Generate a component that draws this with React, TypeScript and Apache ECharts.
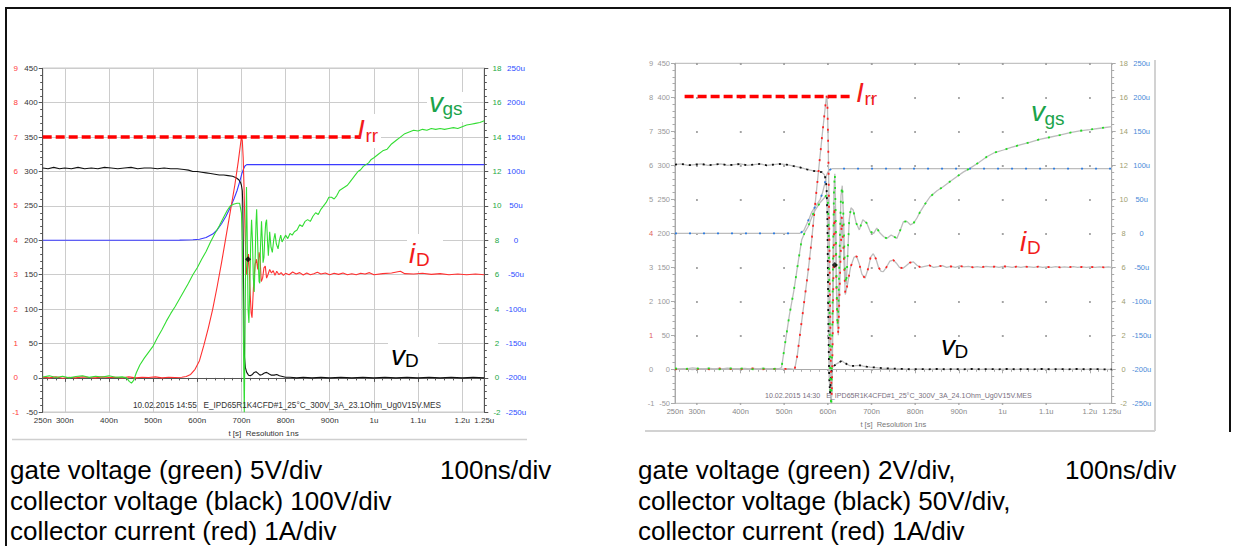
import React, { useEffect, useRef } from "react";
import * as echarts from "echarts";

type P = [number, number];

// ================= Left panel (time in ns) =================
// collector voltage, V (left scale -50..450)
const leftBlackV: P[] = [
  [250, 305], [262, 304], [275, 306], [288, 304], [300, 305], [315, 304], [330, 306], [345, 304], [360, 305], [375, 304],
  [390, 306], [405, 305], [420, 304], [435, 305], [450, 306], [465, 304], [480, 305], [495, 305], [510, 304], [525, 305],
  [540, 304], [555, 304], [570, 303], [580, 302], [590, 300], [600, 300], [610, 299], [620, 298], [630, 297], [640, 296],
  [650, 295], [660, 295], [670, 294], [680, 293], [688, 291], [694, 288], [698, 284], [700, 280], [702, 272], [703, 255],
  [704, 200], [705, 120], [706, 60], [707, 30], [709, 15], [712, 8], [716, 4], [720, 3], [725, 5], [729, 8], [733, 9],
  [737, 7], [742, 4], [747, 5], [752, 7], [757, 8], [762, 6], [768, 4], [774, 4], [780, 5], [786, 3], [793, 2], [800, 1],
  [810, 1], [825, 0], [840, 1], [860, 0], [880, 1], [900, 0], [925, 1], [950, 0], [975, 1], [1000, 0], [1025, 1],
  [1050, 0], [1075, 1], [1100, 0], [1125, 1], [1150, 0], [1175, 1], [1200, 0], [1225, 1], [1250, 0],
];
// blue trace, u (right blue scale -250u..250u)
const leftBlueU: P[] = [
  [250, 0], [400, 0], [500, 0], [560, 0.3], [590, 0.8], [605, 1.5], [620, 4], [635, 9], [645, 15], [655, 24], [665, 35],
  [675, 48], [683, 60], [690, 72], [696, 85], [701, 97], [705, 104], [708, 108], [712, 110], [1250, 110],
];
// collector current, A (red scale -1..9)
const leftRedA: P[] = [
  [250, 0.02], [265, 0.0], [280, 0.03], [295, -0.01], [310, 0.02], [325, 0.0], [340, 0.03], [355, 0.01], [370, 0.0],
  [385, 0.03], [400, 0.01], [415, 0.02], [430, 0.0], [445, 0.03], [460, 0.0], [475, 0.02], [490, 0.01], [505, 0.03],
  [520, 0.0], [535, 0.02], [550, 0.01], [565, 0.02], [575, 0.04], [585, 0.1], [595, 0.25], [605, 0.5], [615, 0.95],
  [625, 1.45], [635, 2.0], [645, 2.65], [655, 3.35], [665, 4.1], [675, 4.85], [685, 5.6], [693, 6.3], [698, 6.8],
  [700, 7.0], [702, 6.9], [704, 6.4], [706, 5.5], [708, 4.4], [710, 3.5], [712, 3.0], [714, 3.2], [716, 3.6], [718, 3.1],
  [720, 2.4], [722, 1.9], [724, 1.75], [726, 2.3], [728, 2.8], [731, 3.3], [734, 3.45], [737, 3.15], [740, 3.65],
  [742, 3.5], [745, 2.8], [748, 2.9], [751, 3.2], [754, 3.25], [757, 2.9], [760, 3.0], [764, 3.15], [768, 3.05],
  [772, 3.12], [776, 2.98], [780, 3.1], [785, 3.0], [790, 3.06], [795, 2.98], [800, 3.04], [808, 3.0], [816, 3.08],
  [824, 3.02], [832, 3.06], [840, 2.99], [848, 3.05], [856, 3.0], [864, 3.03], [872, 3.07], [880, 3.02], [890, 3.05],
  [900, 3.0], [910, 3.04], [920, 3.01], [930, 3.05], [940, 3.0], [950, 3.03], [960, 3.0], [970, 3.04], [980, 3.02],
  [990, 3.06], [1000, 3.0], [1020, 3.03], [1040, 3.05], [1060, 3.1], [1070, 3.03], [1090, 3.02], [1110, 3.04],
  [1130, 3.01], [1150, 3.03], [1170, 3.0], [1190, 3.02], [1210, 3.0], [1230, 3.02], [1250, 3.0],
];
// gate voltage, V (green scale -2..18)
const leftGreenV: P[] = [
  [250, 0.05], [265, 0.12], [280, 0.02], [295, 0.1], [310, 0.0], [325, 0.08], [340, 0.12], [355, 0.03], [370, 0.1],
  [385, 0.05], [400, 0.12], [415, 0.04], [430, 0.06], [440, 0.0], [446, -0.2], [451, -0.3], [456, -0.15], [462, 0.3],
  [470, 0.75], [480, 1.15], [490, 1.5], [500, 1.85], [510, 2.35], [520, 2.8], [530, 3.3], [540, 3.75], [550, 4.15],
  [560, 4.6], [570, 5.05], [580, 5.5], [590, 6.0], [600, 6.4], [610, 6.9], [620, 7.35], [630, 7.9], [640, 8.4],
  [650, 8.85], [660, 9.35], [668, 9.75], [675, 10.0], [682, 10.1], [690, 10.15], [696, 10.15], [700, 9.6], [702, 8.0],
  [703.5, 5.0], [705, 1.0], [706.5, -2.0], [708, 2.0], [710, 8.0], [711.5, 11.1], [713, 8.5], [715, 4.0], [717, 3.2],
  [719, 5.3], [721, 7.8], [723, 9.2], [725, 8.0], [727, 5.8], [729, 5.0], [731, 6.8], [733, 9.0], [734.5, 9.8],
  [736, 8.6], [738, 6.8], [740, 5.6], [741.5, 5.5], [743, 7.5], [745.5, 9.1], [747, 8.2], [749, 6.7], [751, 7.0],
  [753, 8.2], [755, 9.0], [757, 9.2], [759, 8.0], [761, 7.1], [764, 8.5], [767, 7.6], [770, 7.3], [773, 8.0], [776, 8.4],
  [779, 7.8], [783, 7.5], [786, 8.0], [789, 8.3], [792, 7.9], [796, 8.1], [800, 8.3], [805, 8.1], [810, 8.4], [815, 8.3],
  [820, 8.5], [826, 8.6], [832, 8.9], [838, 8.8], [844, 9.1], [850, 9.2], [856, 9.1], [862, 9.4], [868, 9.6], [874, 9.5],
  [880, 9.8], [886, 10.0], [892, 10.2], [898, 10.5], [904, 10.5], [910, 10.4], [916, 10.6], [922, 10.9], [928, 11.0],
  [934, 11.1], [940, 11.2], [946, 11.4], [952, 11.6], [958, 11.8], [964, 12.0], [970, 12.1], [976, 12.3], [982, 12.4],
  [988, 12.5], [994, 12.7], [1000, 12.8], [1010, 13.0], [1020, 13.2], [1030, 13.3], [1040, 13.6], [1050, 13.8],
  [1060, 14.0], [1070, 14.2], [1080, 14.3], [1090, 14.4], [1100, 14.35], [1110, 14.45], [1120, 14.4], [1130, 14.5],
  [1140, 14.45], [1150, 14.5], [1160, 14.45], [1170, 14.5], [1180, 14.55], [1190, 14.5], [1200, 14.6], [1210, 14.7],
  [1220, 14.75], [1230, 14.8], [1240, 14.85], [1250, 14.95],
];
const leftIrrA: P[] = [[250, 7.0], [968, 7.0]];
const leftCursorA: P[] = [[715, 3.45]];
const leftFooter = "10.02.2015 14:55\u00a0\u00a0\u00a0E_IPD65R1K4CFD#1_25°C_300V_3A_23.1Ohm_Ug0V15V.MES";

// ================= Right panel =================
const rightBlackV: P[] = [
  [250, 301], [265, 302], [280, 300], [295, 301], [310, 302], [325, 300], [340, 301], [355, 302], [370, 300], [385, 301],
  [400, 302], [415, 300], [430, 301], [445, 302], [460, 300], [475, 301], [490, 302], [505, 301], [520, 299], [536, 297],
  [552, 294], [565, 292], [576, 291], [586, 290], [592, 286], [595, 280], [597, 268], [599, 220], [600, 150], [601, 80],
  [602, 30], [603, -10], [605, -35], [607, -15], [609, 0], [612, 4], [620, 8], [628, 11], [632, 12.5], [637, 10],
  [643, 7.8], [650, 5.5], [658, 4.9], [666, 5.5], [674, 5.9], [681, 4.5], [689, 3.8], [697, 3.2], [704, 2.9], [715, 2.2],
  [725, 1.8], [735, 1.5], [750, 1], [770, 0.5], [790, 0], [810, 0.5], [830, 0], [850, 0.5], [870, 0], [890, 0.5],
  [910, 0], [930, 0.5], [950, 0], [970, 0.5], [990, 0], [1010, 0.5], [1030, 0], [1050, 0.5], [1070, 0], [1090, 0.5],
  [1110, 0], [1130, 0.5], [1150, 0], [1170, 0.5], [1190, 0], [1210, 0.5], [1230, 0], [1250, 0],
];
const rightBlueU: P[] = [
  [250, 0], [536, 0], [545, 4], [552, 14], [558, 23], [563, 31], [572, 40], [582, 49], [588, 60], [593, 73], [597, 85],
  [600, 90], [604, 93], [609, 95], [1250, 95],
];
const rightRedA: P[] = [
  [250, 0], [270, 0.02], [290, -0.01], [310, 0.02], [330, 0], [350, 0.03], [370, 0], [390, 0.02], [410, 0], [430, 0.03],
  [450, 0], [470, 0.02], [490, 0], [510, 0.02], [524, 0], [530, 0.4], [538, 1.2], [546, 2.0], [555, 2.9], [563, 3.8],
  [572, 5.0], [580, 6.0], [588, 7.0], [594, 7.7], [597, 8.05], [599, 7.8], [601, 6.5], [603, 4.5], [605, 2.0], [607, 0.0],
  [609, -0.8], [611, 0.8], [613, 3.0], [615, 4.8], [617, 4.2], [620, 2.2], [624, 1.0], [628, 2.8], [632, 4.5], [636, 3.5],
  [640, 2.2], [645, 2.5], [652, 3.0], [660, 3.3], [666, 3.32], [672, 3.1], [678, 2.8], [685, 2.68], [692, 2.95],
  [698, 3.3], [704, 3.4], [710, 3.25], [716, 3.0], [722, 2.88], [727, 2.87], [734, 3.0], [742, 3.18], [750, 3.21],
  [757, 3.12], [764, 3.0], [772, 2.97], [780, 3.05], [788, 3.14], [796, 3.16], [804, 3.06], [812, 3.0], [822, 3.03],
  [832, 3.06], [842, 3.0], [852, 3.02], [862, 3.05], [872, 3.0], [882, 3.03], [892, 3.0], [902, 3.04], [912, 3.01],
  [922, 3.03], [932, 3.0], [942, 3.02], [952, 3.0], [962, 3.03], [972, 3.01], [982, 3.02], [992, 3.0], [1002, 3.03],
  [1012, 3.02], [1022, 3.0], [1032, 3.02], [1042, 3.0], [1052, 3.02], [1062, 3.01], [1072, 3.0], [1082, 3.02],
  [1092, 3.0], [1102, 3.01], [1112, 3.0], [1122, 3.02], [1132, 3.0], [1142, 3.01], [1152, 3.0], [1162, 3.02],
  [1172, 3.0], [1182, 3.01], [1192, 3.0], [1202, 3.01], [1212, 3.0], [1222, 3.01], [1232, 3.0], [1242, 3.01], [1250, 3.0],
];
const rightGreenV: P[] = [
  [250, 0.05], [270, 0.0], [290, 0.08], [310, 0.02], [330, 0.06], [350, 0.0], [370, 0.07], [390, 0.03], [410, 0.06],
  [430, 0.0], [450, 0.05], [470, 0.02], [490, 0.05], [494, 0.1], [502, 1.5], [512, 3.2], [522, 4.6], [532, 6.3],
  [540, 7.6], [548, 8.1], [555, 8.4], [567, 9.2], [582, 9.8], [594, 10.15], [598, 10.3], [600, 10.0], [602, 8.0],
  [604, 3.0], [606, -1.5], [608, -2.2], [610, 2.0], [612, 7.0], [614, 10.5], [616, 11.5], [618, 9.0], [620, 5.0],
  [622, 2.5], [624, 3.5], [627, 7.0], [630, 10.2], [633, 10.8], [636, 8.8], [639, 6.0], [642, 5.0], [645, 6.5],
  [649, 8.8], [653, 9.5], [658, 9.37], [665, 8.6], [672, 8.2], [680, 8.8], [689, 8.6], [697, 8.1], [705, 8.0],
  [712, 8.3], [720, 8.0], [728, 7.8], [735, 7.7], [745, 7.9], [758, 7.7], [766, 8.2], [773, 8.68], [781, 8.7],
  [789, 8.5], [796, 8.59], [804, 8.9], [811, 9.25], [822, 9.7], [834, 10.15], [850, 10.5], [864, 10.74], [880, 11.05],
  [895, 11.33], [910, 11.6], [925, 11.82], [945, 12.15], [964, 12.5], [982, 12.75], [1002, 12.9], [1020, 13.05],
  [1040, 13.2], [1062, 13.35], [1085, 13.53], [1108, 13.65], [1131, 13.78], [1155, 13.92], [1177, 14.03], [1200, 14.1],
  [1223, 14.18], [1250, 14.27],
];
const rightIrrA: P[] = [[272, 8.02], [654, 8.02]];
const rightCursorA: P[] = [[616, 3.07]];
const rightFooter = "10.02.2015 14:30\u00a0\u00a0\u00a0E_IPD65R1K4CFD#1_25°C_300V_3A_24.1Ohm_Ug0V15V.MES";

// ================= Axes / ticks =================
const xMajorTicks = [250, 300, 400, 500, 600, 700, 800, 900, 1000, 1100, 1200, 1250];
const xMinorTicks: number[] = [];
for (let t = 260; t < 1250; t += 20) if (t % 100 !== 0) xMinorTicks.push(t);
const xAxisTitle = "t [s]\u00a0\u00a0Resolution 1ns";

const leftCaption = ["gate voltage (green) 5V/div", "collector voltage (black) 100V/div", "collector current (red) 1A/div"];
const rightCaption = ["gate voltage (green) 2V/div,", "collector voltage (black) 50V/div,", "collector current (red) 1A/div"];
const timebase = "100ns/div";

const FONT = '"Liberation Sans", Arial, sans-serif';
const fmtT = (v: number) => (v < 1000 ? `${v}n` : `${Number((v / 1000).toFixed(2))}u`);

type Panel = {
  grid: { left: number; top: number; width: number; height: number };
  dotted: boolean;
  axisColor: string;
  gridColor: string;
  frameColor: string;
  labelSize: number;
  leftRW: number;
  leftKW: number;
  leftMargin: number;
  rightGW: number;
  rightBW: number;
  rightMargin: number;
  colors: { r: string; r2: string; k: string; g: string; b: string; x: string; name: string };
  nameGap: number;
  black: P[];
  blue: P[];
  red: P[];
  green: P[];
  irr: P[];
  cursor: P[];
};

const panels: Panel[] = [
  {
    grid: { left: 42.7, top: 68.3, width: 441.6, height: 344 },
    dotted: false,
    axisColor: "#555",
    gridColor: "#cccccc",
    frameColor: "#777",
    labelSize: 8,
    leftRW: 10,
    leftKW: 17,
    leftMargin: 5,
    rightGW: 10,
    rightBW: 28,
    rightMargin: 7.7,
    colors: { r: "#ff3b3b", r2: "#ff3b3b", k: "#333", g: "#22a844", b: "#2a4cff", x: "#333", name: "#333" },
    nameGap: 15.5,
    black: leftBlackV,
    blue: leftBlueU,
    red: leftRedA,
    green: leftGreenV,
    irr: leftIrrA,
    cursor: leftCursorA,
  },
  {
    grid: { left: 675, top: 63.3, width: 436.7, height: 340 },
    dotted: true,
    axisColor: "#aaa",
    gridColor: "#999",
    frameColor: "#b5b5b5",
    labelSize: 7.5,
    leftRW: 8,
    leftKW: 15,
    leftMargin: 5,
    rightGW: 10,
    rightBW: 26,
    rightMargin: 7,
    colors: { r: "#999", r2: "#e06060", k: "#999", g: "#a0a070", b: "#4a8ad8", x: "#888", name: "#777" },
    nameGap: 14.5,
    black: rightBlackV,
    blue: rightBlueU,
    red: rightRedA,
    green: rightGreenV,
    irr: rightIrrA,
    cursor: rightCursorA,
  },
];

function buildOption() {
  const grids: any[] = [];
  const xAxes: any[] = [];
  const yAxes: any[] = [];
  const series: any[] = [];

  panels.forEach((p, i) => {
    grids.push({
      ...p.grid,
      show: true,
      borderColor: p.frameColor,
      borderWidth: 1,
      backgroundColor: "transparent",
      containLabel: false,
      outerBoundsMode: "none",
    });
    const xi = i * 2;
    const yi = i * 4;
    // dotted grid: dots only at the grid intersections
    const colW = (p.grid.width / 1000) * 100;
    const firstCol = (p.grid.width / 1000) * 50;
    const rowH = p.grid.height / 10;
    const gridLine = p.dotted
      ? { color: p.gridColor, width: 1.5, type: [1.5, rowH - 1.5] }
      : { color: p.gridColor, width: 1 };
    const hGridLine = p.dotted
      ? { color: p.gridColor, width: 1.5, type: [0, firstCol - 0.75, 1.5, colW - firstCol - 0.75] }
      : { color: p.gridColor, width: 1 };

    xAxes.push({
      gridIndex: i,
      type: "value",
      position: "bottom",
      min: 250,
      max: 1250,
      axisLine: { show: true, lineStyle: { color: p.axisColor, width: 1 } },
      axisTick: { show: true, customValues: xMajorTicks, length: 4, lineStyle: { color: p.axisColor } },
      axisLabel: {
        show: true,
        customValues: xMajorTicks,
        formatter: fmtT,
        fontSize: p.labelSize,
        fontFamily: FONT,
        color: p.colors.x,
        margin: 4.5,
        hideOverlap: false,
      },
      splitLine: { show: true, lineStyle: gridLine },
      name: xAxisTitle,
      nameLocation: "middle",
      nameGap: p.nameGap,
      nameTextStyle: { fontSize: p.labelSize, fontFamily: FONT, color: p.colors.name },
    });
    xAxes.push({
      gridIndex: i,
      type: "value",
      position: "bottom",
      min: 250,
      max: 1250,
      axisLine: { show: false },
      axisTick: { show: true, customValues: xMinorTicks, length: 2.5, lineStyle: { color: p.axisColor } },
      axisLabel: { show: false },
      splitLine: { show: false },
    });

    const c = p.colors;
    yAxes.push({
      gridIndex: i,
      type: "value",
      position: "left",
      min: -50,
      max: 450,
      interval: 50,
      axisLine: { show: true, lineStyle: { color: p.axisColor } },
      axisTick: { show: true, length: 4, lineStyle: { color: p.axisColor } },
      minorTick: { show: true, splitNumber: 5, length: 2.5, lineStyle: { color: p.axisColor } },
      splitLine: { show: true, lineStyle: hGridLine },
      axisLabel: {
        margin: p.leftMargin,
        fontSize: p.labelSize,
        fontFamily: FONT,
        formatter: (v: number) => {
          const idx = v / 50;
          const key = i === 1 && (idx === 4 || idx === 1) ? "r2" : "r";
          return `{${key}|${idx}}{k|${v}}`;
        },
        rich: {
          r: { width: p.leftRW, align: "center", color: c.r, fontSize: p.labelSize, fontFamily: FONT },
          r2: { width: p.leftRW, align: "center", color: c.r2, fontSize: p.labelSize, fontFamily: FONT },
          k: { width: p.leftKW, align: "right", color: c.k, fontSize: p.labelSize, fontFamily: FONT },
        },
      },
    });
    yAxes.push({
      gridIndex: i,
      type: "value",
      position: "right",
      min: -2,
      max: 18,
      interval: 2,
      axisLine: { show: true, lineStyle: { color: p.axisColor } },
      axisTick: { show: true, length: 4, lineStyle: { color: p.axisColor } },
      minorTick: { show: true, splitNumber: 5, length: 2.5, lineStyle: { color: p.axisColor } },
      splitLine: { show: false },
      axisLabel: {
        margin: p.rightMargin,
        fontSize: p.labelSize,
        fontFamily: FONT,
        align: "left",
        formatter: (v: number) => {
          const u = v * 25 - 200;
          return `{g|${v}}{b|${u === 0 ? "0" : u + "u"}}`;
        },
        rich: {
          g: { width: p.rightGW, align: "center", color: c.g, fontSize: p.labelSize, fontFamily: FONT },
          b: { width: p.rightBW, align: "center", color: c.b, fontSize: p.labelSize, fontFamily: FONT },
        },
      },
    });
    yAxes.push({ gridIndex: i, type: "value", min: -1, max: 9, show: false, position: "left" });
    yAxes.push({ gridIndex: i, type: "value", min: -250, max: 250, show: false, position: "right" });

    const line = (data: P[], yAxisIndex: number, color: string, width: number, z: number, type: any = "solid") => ({
      type: "line",
      xAxisIndex: xi,
      yAxisIndex,
      data,
      showSymbol: false,
      symbol: "none",
      silent: true,
      z,
      lineStyle: { color, width, type },
    });

    if (!p.dotted) {
      series.push(line(p.blue, yi + 3, "#3b3bff", 1.1, 3));
      series.push(line(p.black, yi + 0, "#111111", 1.1, 4));
      series.push(line(p.red, yi + 2, "#ff3030", 1.1, 5));
      series.push(line(p.green, yi + 1, "#33dd33", 1.1, 6));
    } else {
      const traces: [P[], number, string, number[]][] = [
        [p.blue, yi + 3, "#2f7de0", [2, 12]],
        [p.black, yi + 0, "#111111", [2, 5]],
        [p.red, yi + 2, "#ff2020", [2, 9]],
        [p.green, yi + 1, "#22dd22", [2, 9]],
      ];
      traces.forEach(([d, ya], k) => {
        series.push(line(d, ya, "#bdbdbd", 1.3, 3 + k));
      });
      traces.forEach(([d, ya, col, dash], k) => {
        series.push(line(d, ya, col, 1.8, 8 + k, dash));
      });
    }
    series.push({ ...line(p.irr, yi + 2, "#ff0000", 3.5, 12, [9, 4]) });
    series.push({
      type: "scatter",
      xAxisIndex: xi,
      yAxisIndex: yi + 2,
      data: p.cursor,
      symbol: "diamond",
      symbolSize: 6,
      itemStyle: { color: "#000" },
      silent: true,
      z: 13,
    });
  });

  // ---------- annotations ----------
  const MAIN = 28;
  const SUB = 19;
  const ann = (x: number, base: number, t: string, sx: number, sbase: number, s: string, color: string) => [
    {
      type: "text",
      x,
      y: base - 0.35 * MAIN,
      z: 100,
      style: { text: t, fontSize: MAIN, fontStyle: "italic", fontFamily: FONT, fill: color, verticalAlign: "middle", align: "left" },
    },
    {
      type: "text",
      x: sx,
      y: sbase - 0.35 * SUB,
      z: 100,
      style: { text: s, fontSize: SUB, fontFamily: FONT, fill: color, verticalAlign: "middle", align: "left" },
    },
  ];
  const white = (x: number, y: number, w: number, h: number) => ({
    type: "rect",
    z: 1,
    shape: { x, y, width: w, height: h },
    style: { fill: "#fff" },
  });
  const text = (x: number, y: number, t: string, size: number, color: string) => ({
    type: "text",
    x,
    y,
    z: 100,
    style: { text: t, fontSize: size, fontFamily: FONT, fill: color, verticalAlign: "middle", align: "left" },
  });
  const hline = (x1: number, y1: number, x2: number, y2: number, color: string, w: number) => ({
    type: "line",
    z: 100,
    shape: { x1, y1, x2, y2 },
    style: { stroke: color, lineWidth: w },
  });

  const RED = "#f21b1b";
  const GREEN = "#1ba34a";
  const CAP = 26;
  const graphic: any[] = [
    hline(5, 8, 1231, 8, "#111", 2),
    hline(6, 7, 6, 546, "#111", 2),
    hline(1230, 7, 1230, 432, "#111", 2),
    hline(12, 439.5, 527, 439.5, "#cfcfcf", 1.5),
    hline(645, 431, 1155, 431, "#d2d2d2", 2),
    hline(1155, 60, 1155, 431, "#d2d2d2", 2),
    white(427, 92, 36, 30),
    white(407, 234, 36, 37),
    white(388, 337, 50, 36),
    white(361, 114, 20, 34),
    ...ann(357, 139.5, "I", 365.5, 142, "rr", RED),
    ...ann(429, 112.7, "v", 442.5, 115, "gs", GREEN),
    ...ann(409, 263.5, "i", 416, 266, "D", RED),
    ...ann(391, 365, "v", 405, 367.5, "D", "#000"),
    ...ann(856, 102, "I", 864.5, 105, "rr", RED),
    ...ann(1031, 121.7, "v", 1044.5, 125, "gs", GREEN),
    ...ann(1020, 251, "i", 1027, 254, "D", RED),
    ...ann(941, 355, "v", 954.5, 358, "D", "#000"),
    text(133, 405, leftFooter, 8.2, "#333"),
    text(765, 396, rightFooter, 7.1, "#7a6f80"),
    text(10, 470, leftCaption[0], CAP, "#000"),
    text(440, 470, timebase, CAP, "#000"),
    text(10, 501, leftCaption[1], CAP, "#000"),
    text(10, 531, leftCaption[2], CAP, "#000"),
    text(638, 470, rightCaption[0], CAP, "#000"),
    text(1065, 470, timebase, CAP, "#000"),
    text(638, 501, rightCaption[1], CAP, "#000"),
    text(638, 531, rightCaption[2], CAP, "#000"),
  ];

  return {
    animation: false,
    backgroundColor: "#fff",
    textStyle: { fontFamily: FONT },
    grid: grids,
    xAxis: xAxes,
    yAxis: yAxes,
    series,
    graphic: { elements: graphic },
  };
}

export default function App() {
  const ref = useRef<HTMLDivElement>(null);
  useEffect(() => {
    if (!ref.current) return;
    const chart = echarts.init(ref.current, null, { renderer: "svg" });
    chart.setOption(buildOption() as any);
    return () => chart.dispose();
  }, []);
  return (
    <div
      ref={ref}
      style={{ position: "absolute", left: 0, top: 0, width: 1237, height: 546, background: "#fff" }}
    />
  );
}
